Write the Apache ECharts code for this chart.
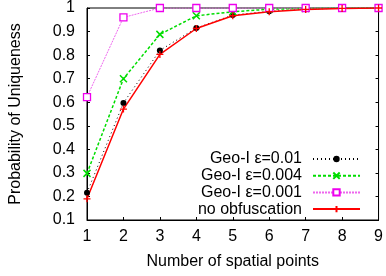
<!DOCTYPE html>
<html>
<head>
<meta charset="utf-8">
<script src="https://cdn.jsdelivr.net/npm/echarts@6/dist/echarts.min.js"></script>
<style>
html, body { margin: 0; padding: 0; background: #fff; }
#box { width: 386px; height: 276px; }
</style>
</head>
<body>
<div id="box"></div>
<script>
// data
var points = [1, 2, 3, 4, 5, 6, 7, 8, 9]
var geo001 = [0.216, 0.597, 0.82, 0.915, 0.97, 0.986, 0.995, 0.999, 1]
var geo0004 = [0.298, 0.70, 0.888, 0.967, 0.984, 0.995, 0.998, 1, 1]
var geo0001 = [0.622, 0.96, 1, 1, 1, 1, 1, 1, 1]
var noObf = [0.19, 0.571, 0.803, 0.913, 0.967, 0.984, 0.994, 0.998, 1]
var names = ['Geo-I ε=0.01', 'Geo-I ε=0.004', 'Geo-I ε=0.001', 'no obfuscation']

function pairs(arr) {
    return arr.map(function (v, i) { return [points[i], v] })
}

var font = 'Liberation Sans, Arial, sans-serif'
var myChart = echarts.init(document.getElementById('box'))

var option = {
    animation: false,
    textStyle: { fontFamily: font },
    grid: { left: 85, right: 4, top: 8, bottom: 56, show: true, borderColor: '#000', borderWidth: 1 },
    legend: {
        right: 20, top: 146,
        orient: 'vertical',
        align: 'right',
        itemWidth: 47, itemHeight: 8, itemGap: 0.7,
        textStyle: { fontSize: 16, color: '#000', fontFamily: font, padding: [0, 6, 0, 0] },
        data: names
    },
    xAxis: {
        type: 'value', min: 1, max: 9, interval: 1,
        name: 'Number of spatial points', nameLocation: 'middle', nameGap: 34,
        nameTextStyle: { fontSize: 16, color: '#000' },
        axisLine: { lineStyle: { color: '#000' } },
        axisTick: { inside: true, length: 3, lineStyle: { color: '#000' } },
        axisLabel: { fontSize: 16, color: '#000', margin: 9 },
        splitLine: { show: false }
    },
    yAxis: [{
        type: 'value', min: 0.1, max: 1, interval: 0.1,
        name: 'Probability of Uniqueness', nameLocation: 'middle', nameGap: 63,
        nameTextStyle: { fontSize: 16, color: '#000' },
        axisLine: { show: true, lineStyle: { color: '#000' } },
        axisTick: { show: true, inside: true, length: 3, lineStyle: { color: '#000' } },
        axisLabel: { fontSize: 16, color: '#000', margin: 12,
            formatter: function (v) { return Math.abs(v - 1) < 1e-9 ? '1' : v.toFixed(1) } },
        splitLine: { show: false }
    }, {
        type: 'value', min: 0.1, max: 1, interval: 0.1, position: 'right',
        axisLine: { show: true, lineStyle: { color: '#000' } },
        axisTick: { show: true, inside: true, length: 3, lineStyle: { color: '#000' } },
        axisLabel: { show: false },
        splitLine: { show: false }
    }],
    series: [
        {
            name: names[0], type: 'line', data: pairs(geo001),
            symbol: 'circle', symbolSize: 6,
            itemStyle: { color: '#000' },
            lineStyle: { color: '#000', width: 1, type: [1, 3] }
        },
        {
            name: names[1], type: 'line', data: pairs(geo0004),
            symbol: 'path://M0,0L10,10M10,0L0,10', symbolSize: 7,
            itemStyle: { color: 'rgba(0,0,0,0)', borderColor: '#00dd00', borderWidth: 1.5 },
            lineStyle: { color: '#00dd00', width: 1.5, type: [3, 2] }
        },
        {
            name: names[2], type: 'line', data: pairs(geo0001),
            symbol: 'rect', symbolSize: 7,
            itemStyle: { color: '#fff', borderColor: '#ee00ee', borderWidth: 1.3 },
            lineStyle: { color: '#ee66ee', width: 1, type: [2, 1] }
        },
        {
            name: names[3], type: 'line', data: pairs(noObf),
            symbol: 'path://M5,0L5,10M0,5L10,5', symbolSize: 7,
            itemStyle: { color: 'rgba(0,0,0,0)', borderColor: '#ff0000', borderWidth: 1.3 },
            lineStyle: { color: '#ff0000', width: 1.5 }
        }
    ]
}

myChart.setOption(option)
</script>
</body>
</html>
